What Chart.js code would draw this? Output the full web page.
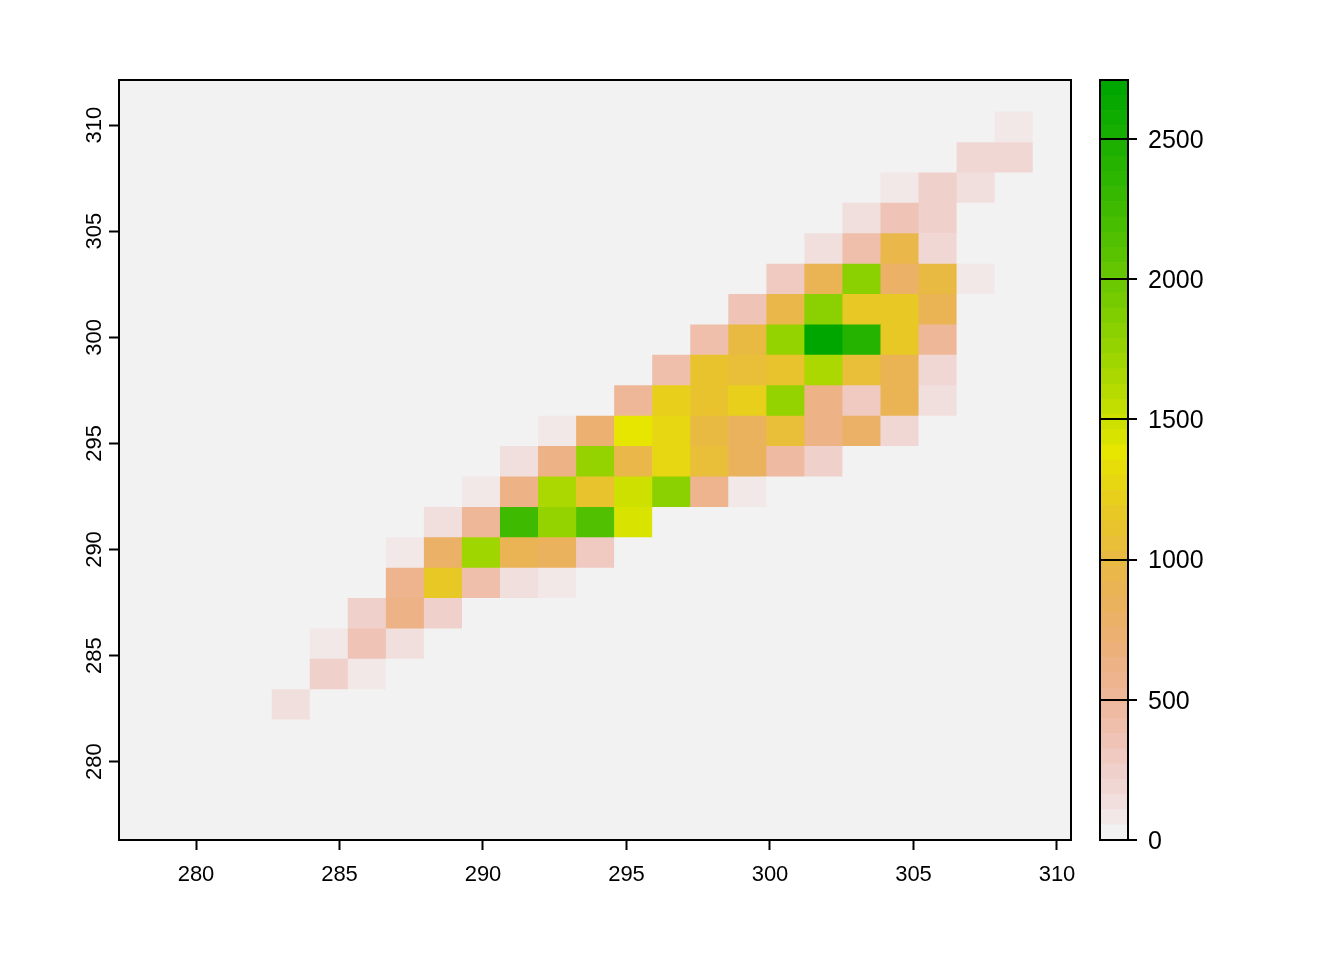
<!DOCTYPE html>
<html>
<head>
<meta charset="utf-8">
<script src="https://cdn.jsdelivr.net/npm/chart.js@4/dist/chart.umd.js"></script>
<style>
  html, body { margin: 0; background: #fff; }
  canvas { position: absolute; left: 0; top: 0; }
</style>
</head>
<body>
<canvas id="rasterChart" width="1344" height="960"></canvas>
<canvas id="legendChart" width="1344" height="960"></canvas>
<script>
var xTicks = [280, 285, 290, 295, 300, 305, 310];
var yTicks = [280, 285, 290, 295, 300, 305, 310];
var legendTicks = [0, 500, 1000, 1500, 2000, 2500];

// cell centres along x, left to right
var xCenters = [278.008, 279.334, 280.660, 281.985, 283.311, 284.637, 285.963, 287.289, 288.614, 289.940,
  291.266, 292.592, 293.918, 295.243, 296.569, 297.895, 299.221, 300.547, 301.872, 303.198,
  304.524, 305.850, 307.176, 308.501, 309.827];
// cell edges along y, bottom to top
var yEdges = [276.24, 277.67, 279.10, 280.53, 281.97, 283.40, 284.83, 286.26, 287.70, 289.13, 290.56, 291.99,
  293.43, 294.86, 296.29, 297.72, 299.16, 300.59, 302.02, 303.45, 304.89, 306.32, 307.75, 309.18, 310.62, 312.05];

// counts, first row is the top of the plot
var counts = [
  [0,0,0,0,0,0,0,0,0,0,0,0,0,0,0,0,0,0,0,0,0,0,0,0,0],
  [0,0,0,0,0,0,0,0,0,0,0,0,0,0,0,0,0,0,0,0,0,0,0,81,0],
  [0,0,0,0,0,0,0,0,0,0,0,0,0,0,0,0,0,0,0,0,0,0,190,190,0],
  [0,0,0,0,0,0,0,0,0,0,0,0,0,0,0,0,0,0,0,0,81,244,136,0,0],
  [0,0,0,0,0,0,0,0,0,0,0,0,0,0,0,0,0,0,0,136,352,244,0,0,0],
  [0,0,0,0,0,0,0,0,0,0,0,0,0,0,0,0,0,0,136,407,948,190,0,0,0],
  [0,0,0,0,0,0,0,0,0,0,0,0,0,0,0,0,0,298,894,1816,786,1003,81,0,0],
  [0,0,0,0,0,0,0,0,0,0,0,0,0,0,0,0,352,948,1816,1165,1165,894,0,0,0],
  [0,0,0,0,0,0,0,0,0,0,0,0,0,0,0,407,1003,1761,2683,2412,1165,515,0,0,0],
  [0,0,0,0,0,0,0,0,0,0,0,0,0,0,407,1111,1057,1111,1653,1057,894,190,0,0,0],
  [0,0,0,0,0,0,0,0,0,0,0,0,0,515,1219,1111,1219,1761,623,298,894,136,0,0,0],
  [0,0,0,0,0,0,0,0,0,0,0,81,732,1382,1274,1003,840,1057,623,786,190,0,0,0,0],
  [0,0,0,0,0,0,0,0,0,0,136,623,1761,948,1274,1057,840,461,244,0,0,0,0,0,0],
  [0,0,0,0,0,0,0,0,0,81,623,1653,1111,1490,1816,569,81,0,0,0,0,0,0,0,0],
  [0,0,0,0,0,0,0,0,136,515,2249,1761,2141,1436,0,0,0,0,0,0,0,0,0,0,0],
  [0,0,0,0,0,0,0,81,786,1707,894,840,298,0,0,0,0,0,0,0,0,0,0,0,0],
  [0,0,0,0,0,0,0,569,1165,407,136,81,0,0,0,0,0,0,0,0,0,0,0,0,0],
  [0,0,0,0,0,0,244,623,244,0,0,0,0,0,0,0,0,0,0,0,0,0,0,0,0],
  [0,0,0,0,0,81,352,136,0,0,0,0,0,0,0,0,0,0,0,0,0,0,0,0,0],
  [0,0,0,0,0,244,81,0,0,0,0,0,0,0,0,0,0,0,0,0,0,0,0,0,0],
  [0,0,0,0,136,0,0,0,0,0,0,0,0,0,0,0,0,0,0,0,0,0,0,0,0],
  [0,0,0,0,0,0,0,0,0,0,0,0,0,0,0,0,0,0,0,0,0,0,0,0,0],
  [0,0,0,0,0,0,0,0,0,0,0,0,0,0,0,0,0,0,0,0,0,0,0,0,0],
  [0,0,0,0,0,0,0,0,0,0,0,0,0,0,0,0,0,0,0,0,0,0,0,0,0],
  [0,0,0,0,0,0,0,0,0,0,0,0,0,0,0,0,0,0,0,0,0,0,0,0,0]
];

var maxCount = 2710;
var FONT = '"Liberation Sans", Arial, sans-serif';

function hsv(h, s, v) {
  var i = Math.floor(h * 6), f = h * 6 - i;
  var p = v * (1 - s), q = v * (1 - s * f), t = v * (1 - s * (1 - f));
  var rgb = [[v, t, p], [q, v, p], [p, v, t], [p, q, v], [t, p, v], [v, p, q]][i % 6];
  return 'rgb(' + rgb.map(function (c) { return Math.round(c * 255); }).join(',') + ')';
}

// same ramp as R's rev(terrain.colors(n))
function terrainColors(n) {
  var k = Math.floor(n / 2), out = [];
  for (var i = 0; i < k; i++) {
    var a = i / (k - 1);
    out.push(hsv((4 - 2 * a) / 12, 1, 0.65 + 0.25 * a));
  }
  for (var j = 1; j <= n - k; j++) {
    var b = j / (n - k);
    out.push(hsv((2 - 2 * b) / 12, 1 - b, 0.9 + 0.05 * b));
  }
  return out.reverse();
}
var palette = terrainColors(50);

function colorFor(v) {
  return palette[Math.min(palette.length - 1, Math.floor(v / maxCount * palette.length))];
}

var cells = [];
counts.forEach(function (row, r) {
  var k = counts.length - 1 - r;
  row.forEach(function (v, c) {
    cells.push({ x: xCenters[c], y: [yEdges[k], yEdges[k + 1]], v: v });
  });
});

var panel = {
  id: 'panel',
  beforeDatasetsDraw: function (chart) {
    var a = chart.chartArea, ctx = chart.ctx;
    ctx.fillStyle = '#F2F2F2';
    ctx.fillRect(a.left, a.top, a.width, a.height);
  }
};

var box = {
  id: 'box',
  afterDraw: function (chart) {
    var a = chart.chartArea, ctx = chart.ctx;
    ctx.save();
    ctx.strokeStyle = '#000';
    ctx.lineWidth = 2;
    ctx.strokeRect(a.left, a.top, a.width, a.height);
    ctx.restore();
  }
};

// y tick labels read bottom to top, centred on their tick
var rotatedLabels = {
  id: 'rotatedLabels',
  afterDraw: function (chart) {
    var ctx = chart.ctx, scale = chart.scales.y;
    ctx.save();
    ctx.fillStyle = '#000';
    ctx.font = '22px ' + FONT;
    ctx.textAlign = 'center';
    ctx.textBaseline = 'middle';
    yTicks.forEach(function (t) {
      ctx.save();
      ctx.translate(95, scale.getPixelForValue(t));
      ctx.rotate(-Math.PI / 2);
      ctx.fillText(String(t), 0, 0);
      ctx.restore();
    });
    ctx.restore();
  }
};

new Chart(document.getElementById('rasterChart'), {
  type: 'bar',
  data: {
    datasets: [{
      data: cells,
      backgroundColor: function (c) { return c.raw ? colorFor(c.raw.v) : '#F2F2F2'; },
      borderWidth: 0,
      barPercentage: 1,
      categoryPercentage: 1
    }]
  },
  options: {
    responsive: false,
    animation: false,
    devicePixelRatio: 1,
    layout: { padding: { top: 80, right: 273 } },
    plugins: { legend: { display: false }, tooltip: { enabled: false } },
    scales: {
      x: {
        type: 'linear',
        offset: false,
        min: 277.317,
        max: 310.488,
        afterFit: function (s) { s.height = 120; },
        afterBuildTicks: function (s) { s.ticks = xTicks.map(function (v) { return { value: v }; }); },
        border: { display: false },
        grid: { offset: false, drawOnChartArea: false, tickLength: 10, tickColor: '#000', tickWidth: 2 },
        ticks: { color: '#000', padding: 12, maxRotation: 0, autoSkip: false, font: { family: FONT, size: 22 } }
      },
      y: {
        min: 276.31,
        max: 312.125,
        afterFit: function (s) { s.width = 119; },
        afterBuildTicks: function (s) { s.ticks = yTicks.map(function (v) { return { value: v }; }); },
        border: { display: false },
        grid: { drawOnChartArea: false, tickLength: 10, tickColor: '#000', tickWidth: 2 },
        ticks: { display: false }
      }
    }
  },
  plugins: [panel, box, rotatedLabels]
});

new Chart(document.getElementById('legendChart'), {
  type: 'bar',
  data: {
    labels: [''],
    datasets: palette.map(function (col) {
      return { data: [maxCount / palette.length], backgroundColor: col, borderWidth: 0, barPercentage: 1, categoryPercentage: 1 };
    })
  },
  options: {
    responsive: false,
    animation: false,
    devicePixelRatio: 1,
    layout: { padding: { top: 80, bottom: 120, left: 1100 } },
    plugins: { legend: { display: false }, tooltip: { enabled: false } },
    scales: {
      x: { display: false, stacked: true },
      y: {
        position: 'right',
        stacked: true,
        min: 0,
        max: maxCount,
        afterFit: function (s) { s.width = 216; },
        afterBuildTicks: function (s) { s.ticks = legendTicks.map(function (v) { return { value: v }; }); },
        border: { display: false },
        grid: { z: 1, color: '#000', lineWidth: 2, tickLength: 9, tickColor: '#000', tickWidth: 2 },
        ticks: {
          color: '#000',
          padding: 11,
          labelOffset: 2,
          font: { family: FONT, size: 25 },
          callback: function (v) { return String(v); }
        }
      }
    }
  },
  plugins: [box]
});
</script>
</body>
</html>
